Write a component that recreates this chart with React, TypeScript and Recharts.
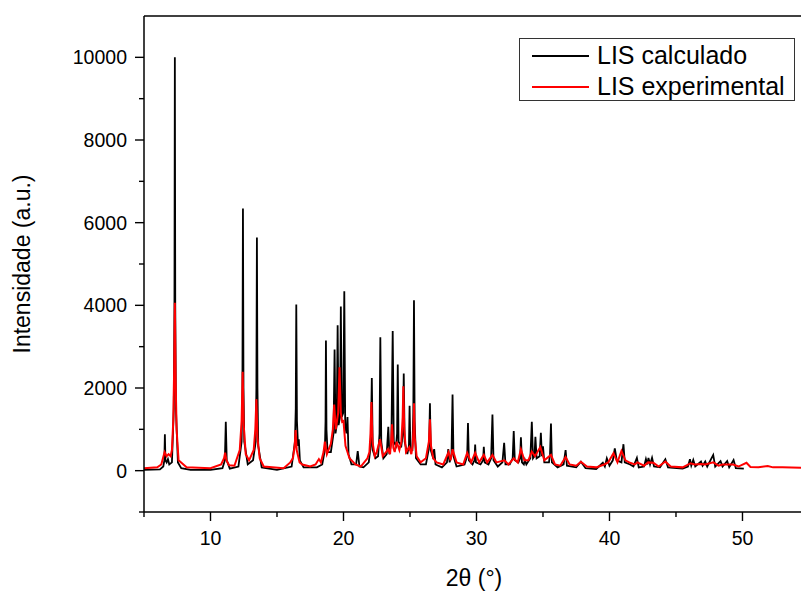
import React from "react";
import { LineChart, Line, XAxis, YAxis, ReferenceLine, Legend } from "recharts";

// LIS calculado (black) — [2θ, intensity]
const calcPoints: [number, number][] = [
  [5, 20], [6.2, 30], [6.45, 100], [6.53, 250], [6.57, 880], [6.61, 250], [6.7, 200], [6.8, 280],
  [6.9, 150], [7.1, 200], [7.24, 1500], [7.29, 4000], [7.32, 10000], [7.35, 4000], [7.4, 1500],
  [7.55, 200], [7.8, 60], [8.5, 20], [10.0, 20], [10.9, 60], [11.08, 250], [11.15, 1180], [11.22, 250],
  [11.45, 50], [12.1, 100], [12.34, 700], [12.4, 2000], [12.44, 6340], [12.48, 2000], [12.54, 700],
  [12.8, 150], [13.2, 250], [13.4, 700], [13.45, 2000], [13.49, 5640], [13.53, 2000], [13.59, 600],
  [13.85, 80], [15.0, 20], [16.1, 100], [16.35, 700], [16.41, 1500], [16.45, 4020], [16.5, 1200],
  [16.58, 600], [16.64, 760], [16.72, 250], [17.0, 80], [18.0, 80], [18.4, 150], [18.6, 500],
  [18.65, 1200], [18.68, 3150], [18.72, 1000], [18.8, 450], [19.05, 450], [19.25, 900], [19.33, 2930],
  [19.4, 900], [19.49, 1100], [19.56, 3520], [19.63, 1100], [19.74, 1300], [19.8, 3970], [19.87, 1300],
  [19.98, 1400], [20.06, 4340], [20.13, 1100], [20.22, 900], [20.3, 1300], [20.38, 400], [20.6, 150],
  [20.95, 150], [21.07, 475], [21.2, 100], [21.5, 80], [21.9, 200], [22.05, 600], [22.13, 2240],
  [22.2, 500], [22.4, 300], [22.6, 350], [22.71, 900], [22.77, 3230], [22.84, 700], [23.0, 300],
  [23.25, 400], [23.37, 1060], [23.45, 400], [23.6, 700], [23.7, 3380], [23.78, 700], [23.95, 600],
  [24.03, 900], [24.08, 2570], [24.14, 700], [24.35, 600], [24.47, 900], [24.53, 2350], [24.6, 700],
  [24.8, 400], [24.92, 600], [24.97, 1570], [25.03, 500], [25.18, 500], [25.25, 1400], [25.3, 4120],
  [25.35, 1200], [25.45, 300], [25.8, 150], [26.2, 150], [26.4, 500], [26.45, 800], [26.5, 1630],
  [26.56, 500], [26.7, 350], [26.82, 520], [26.92, 150], [27.4, 80], [27.78, 200], [27.88, 520],
  [27.98, 200], [28.12, 400], [28.2, 1840], [28.27, 350], [28.5, 100], [29.1, 150], [29.3, 350],
  [29.36, 1150], [29.43, 250], [29.7, 150], [29.85, 250], [29.9, 630], [29.96, 200], [30.3, 150],
  [30.5, 250], [30.55, 580], [30.62, 200], [30.9, 150], [31.1, 300], [31.2, 1360], [31.28, 250],
  [31.6, 100], [31.95, 200], [32.08, 675], [32.18, 150], [32.5, 150], [32.72, 300], [32.8, 960],
  [32.88, 250], [33.15, 200], [33.28, 300], [33.34, 805], [33.42, 200], [33.56, 150], [33.64, 260],
  [33.75, 150], [34.05, 300], [34.16, 1180], [34.25, 300], [34.36, 350], [34.43, 820], [34.52, 300],
  [34.75, 350], [34.84, 915], [34.92, 350], [35.0, 590], [35.1, 200], [35.45, 200], [35.53, 400],
  [35.6, 1140], [35.67, 200], [36.1, 80], [36.55, 150], [36.7, 500], [36.8, 120], [37.2, 100],
  [37.5, 80], [37.85, 215], [38.2, 60], [39.0, 40], [39.5, 190], [39.65, 100], [39.8, 300], [40.0, 120],
  [40.25, 250], [40.4, 540], [40.55, 250], [40.9, 200], [41.05, 640], [41.15, 200], [41.55, 150],
  [41.8, 100], [42.06, 310], [42.2, 80], [42.6, 100], [42.74, 280], [42.85, 150], [42.93, 310],
  [43.05, 150], [43.2, 310], [43.35, 100], [43.8, 80], [44.2, 275], [44.4, 80], [45.5, 50], [45.9, 100],
  [46.05, 275], [46.15, 120], [46.3, 260], [46.45, 100], [46.88, 220], [47.0, 120], [47.2, 220],
  [47.35, 100], [47.8, 380], [47.95, 100], [48.35, 230], [48.5, 100], [48.85, 230], [49.0, 80],
  [49.33, 260], [49.5, 60], [50.1, 50],
];

// LIS experimental (red) — [2θ, intensity]
const expPoints: [number, number][] = [
  [5, 60], [6.0, 80], [6.3, 150], [6.55, 450], [6.7, 350], [6.85, 400], [7.0, 350], [7.1, 500],
  [7.2, 1200], [7.27, 2500], [7.32, 4060], [7.38, 2200], [7.45, 1000], [7.6, 250], [8.2, 80],
  [10.0, 60], [10.8, 150], [11.02, 300], [11.1, 435], [11.2, 250], [11.4, 130], [11.8, 120],
  [12.2, 500], [12.34, 1200], [12.42, 2390], [12.5, 1100], [12.65, 400], [12.9, 250], [13.25, 500],
  [13.37, 1000], [13.45, 1730], [13.53, 800], [13.7, 300], [14.0, 100], [15.5, 60], [16.0, 200],
  [16.2, 300], [16.33, 600], [16.4, 980], [16.48, 500], [16.7, 200], [16.9, 150], [17.5, 100],
  [17.9, 150], [18.15, 280], [18.3, 200], [18.5, 450], [18.6, 700], [18.75, 400], [19.05, 650],
  [19.2, 1000], [19.3, 1600], [19.42, 1000], [19.6, 1400], [19.7, 2500], [19.8, 1400], [19.9, 1180],
  [20.0, 1200], [20.15, 600], [20.45, 300], [20.9, 150], [21.3, 100], [21.8, 300], [21.95, 450],
  [22.03, 900], [22.1, 1660], [22.18, 700], [22.35, 350], [22.5, 450], [22.75, 760], [22.95, 350],
  [23.2, 450], [23.35, 520], [23.5, 400], [23.58, 700], [23.65, 1120], [23.75, 550], [23.85, 450],
  [24.0, 700], [24.2, 500], [24.35, 700], [24.45, 1300], [24.5, 2040], [24.57, 1000], [24.7, 450],
  [24.95, 570], [25.1, 400], [25.2, 600], [25.26, 1000], [25.3, 1630], [25.36, 800], [25.5, 350],
  [25.8, 200], [26.2, 300], [26.42, 700], [26.5, 1240], [26.58, 600], [26.75, 300], [27.0, 200],
  [27.5, 150], [27.9, 450], [28.05, 250], [28.2, 520], [28.5, 200], [29.0, 150], [29.3, 430],
  [29.6, 200], [29.9, 430], [30.2, 200], [30.55, 380], [30.8, 200], [31.2, 380], [31.5, 200],
  [32.1, 250], [32.4, 150], [32.8, 300], [33.1, 200], [33.34, 520], [33.6, 250], [33.9, 250],
  [34.16, 460], [34.4, 350], [34.8, 570], [35.1, 250], [35.6, 380], [35.9, 150], [36.3, 120],
  [36.7, 330], [37.0, 150], [37.5, 120], [37.85, 215], [38.3, 100], [39.0, 80], [39.6, 150],
  [39.9, 200], [40.3, 420], [40.6, 200], [40.9, 475], [41.2, 250], [41.55, 190], [41.9, 150],
  [42.1, 200], [42.6, 120], [42.9, 200], [43.3, 190], [43.7, 100], [44.2, 220], [44.6, 100],
  [45.5, 80], [46.1, 180], [46.4, 150], [46.9, 160], [47.2, 150], [47.8, 200], [48.2, 120],
  [48.5, 150], [48.9, 150], [49.3, 150], [49.7, 100], [50.3, 190], [50.6, 90], [51.2, 80],
  [51.9, 115], [52.3, 80], [53.0, 80], [54.4, 70],
];

const seriesNames = ["LIS calculado", "LIS experimental"];
const seriesColors = ["#000000", "#ff0000"];
const xTicks = [5, 10, 15, 20, 25, 30, 35, 40, 45, 50];
const yTicks = [-1000, 0, 1000, 2000, 3000, 4000, 5000, 6000, 7000, 8000, 9000, 10000];
const xTitle = "2θ (°)";
const yTitle = "Intensidade (a.u.)";

const calcData = calcPoints.map(([x, y]) => ({ x, y }));
const expData = expPoints.map(([x, y]) => ({ x, y }));

const FONT = "'Liberation Sans', Arial, sans-serif";

const XTick = (props: any) => {
  const { x, y, payload } = props;
  const major = payload.value % 10 === 0;
  return (
    <g>
      <line x1={x} x2={x} y1={y} y2={y + (major ? 9 : 5)} stroke="#000" strokeWidth={1.4} />
      {major && (
        <text x={x} y={y + 33} textAnchor="middle" fontSize={19.5} fontFamily={FONT} fill="#000">
          {payload.value}
        </text>
      )}
    </g>
  );
};

const YTick = (props: any) => {
  const { x, y, payload } = props;
  const major = payload.value % 2000 === 0;
  return (
    <g>
      <line x1={x - (major ? 9 : 5)} x2={x} y1={y} y2={y} stroke="#000" strokeWidth={1.4} />
      {major && (
        <text x={x - 17} y={y + 7} textAnchor="end" fontSize={19.5} fontFamily={FONT} fill="#000">
          {payload.value}
        </text>
      )}
    </g>
  );
};

const LegendBox = () => (
  <div
    style={{
      border: "1.5px solid #333",
      width: 276,
      height: 63,
      boxSizing: "border-box",
      background: "#fff",
      fontFamily: FONT,
      fontSize: 25,
      color: "#000",
      padding: "1px 0 0 12px",
    }}
  >
    {seriesNames.map((n, i) => (
      <div key={n} style={{ display: "flex", alignItems: "center", height: 31 }}>
        <div style={{ width: 57, height: 0, borderTop: `2px solid ${seriesColors[i]}`, marginRight: 8 }} />
        <span style={{ lineHeight: "31px" }}>{n}</span>
      </div>
    ))}
  </div>
);

export default function App() {
  return (
    <div
      style={{
        position: "absolute",
        left: 0,
        top: 0,
        width: 801,
        height: 594,
        overflow: "hidden",
        background: "#fff",
      }}
    >
      <LineChart width={801} height={594} margin={{ top: 16, right: 0, left: 0, bottom: 0 }}>
        <XAxis
          type="number"
          dataKey="x"
          domain={[5, 54.4]}
          ticks={xTicks}
          interval={0}
          allowDataOverflow
          tick={<XTick />}
          tickLine={false}
          tickSize={0}
          tickMargin={0}
          height={82}
          axisLine={{ stroke: "#000", strokeWidth: 1.5 }}
        />
        <YAxis
          type="number"
          domain={[-1000, 11000]}
          ticks={yTicks}
          interval={0}
          allowDataOverflow
          tick={<YTick />}
          tickLine={false}
          tickSize={0}
          tickMargin={0}
          width={144}
          axisLine={{ stroke: "#000", strokeWidth: 1.5 }}
        />
        <ReferenceLine y={11000} stroke="#000" strokeWidth={1.5} ifOverflow="visible" />
        <Line data={calcData} dataKey="y" name={seriesNames[0]} stroke={seriesColors[0]} strokeWidth={1.8} dot={false} isAnimationActive={false} />
        <Line data={expData} dataKey="y" name={seriesNames[1]} stroke={seriesColors[1]} strokeWidth={2} dot={false} isAnimationActive={false} />
        <Legend
          layout="vertical"
          align="center"
          verticalAlign="middle"
          content={<LegendBox />}
          wrapperStyle={{ left: 519, top: 38, width: 276, height: 63 }}
        />
        <text x={474} y={586} textAnchor="middle" fontSize={23} fontFamily={FONT} fill="#000">
          {xTitle}
        </text>
        <text
          x={30}
          y={264}
          textAnchor="middle"
          fontSize={23}
          fontFamily={FONT}
          fill="#000"
          transform="rotate(-90 30 264)"
        >
          {yTitle}
        </text>
      </LineChart>
    </div>
  );
}
